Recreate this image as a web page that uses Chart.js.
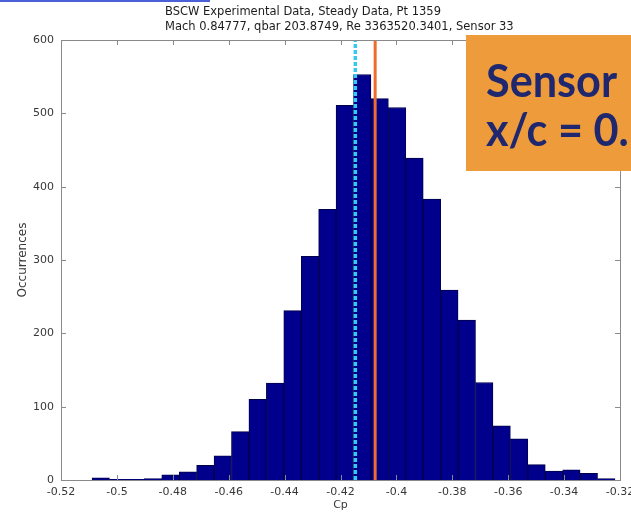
<!DOCTYPE html>
<html>
<head>
<meta charset="utf-8">
<script src="https://cdn.jsdelivr.net/npm/chart.js@4.4.1/dist/chart.umd.min.js"></script>
<style>
  html, body { margin: 0; padding: 0; background: #ffffff; }
  #wrap { position: relative; width: 631px; height: 515px; }
  canvas { display: block; }
</style>
</head>
<body>
<div id="wrap"><canvas id="hist" width="631" height="515"></canvas></div>
<script>
// Histogram of pressure coefficient samples (30 bins)
const binCenters = [
  -0.50578, -0.49954, -0.49331, -0.48707, -0.48083, -0.47460,
  -0.46836, -0.46212, -0.45589, -0.44965, -0.44341, -0.43718,
  -0.43094, -0.42470, -0.41847, -0.41223, -0.40599, -0.39976,
  -0.39352, -0.38728, -0.38105, -0.37481, -0.36857, -0.36234,
  -0.35610, -0.34986, -0.34363, -0.33739, -0.33115, -0.32492
];
const counts = [
  3, 1, 1, 2, 7, 11,
  20, 33, 66, 110, 132, 231,
  305, 369, 511, 553, 520, 508,
  439, 383, 259, 218, 133, 74,
  56, 21, 12, 14, 9, 2
];

// Reference lines (Cp)
const dashedLineCp = -0.4147;
const solidLineCp = -0.4076;

// Axis ticks
const xTickValues = [-0.52, -0.50, -0.48, -0.46, -0.44, -0.42, -0.40, -0.38, -0.36, -0.34, -0.32];
const xTickLabels = ['-0.52', '-0.5', '-0.48', '-0.46', '-0.44', '-0.42', '-0.4', '-0.38', '-0.36', '-0.34', '-0.32'];
const yTickValues = [0, 100, 200, 300, 400, 500, 600];
const yTickLabels = ['0', '100', '200', '300', '400', '500', '600'];

const titleLines = [
  'BSCW Experimental Data, Steady Data, Pt 1359',
  'Mach 0.84777, qbar 203.8749, Re 3363520.3401, Sensor 33'
];
const calloutLines = ['Sensor', 'x/c = 0.'];

const FONT = '"DejaVu Sans", sans-serif';
const AXIS_GREY = '#8a8a8a';
const LABEL_GREY = '#383838';

// Title text and the thin blue rule above it
const titlePlugin = {
  id: 'titleText',
  afterDraw(chart) {
    const ctx = chart.ctx;
    ctx.save();
    ctx.strokeStyle = '#4b5fd6';
    ctx.lineWidth = 2;
    ctx.beginPath();
    ctx.moveTo(0, 1);
    ctx.lineTo(210, 1);
    ctx.stroke();
    ctx.fillStyle = '#1c1c1c';
    ctx.font = '11.5px ' + FONT;
    ctx.textAlign = 'left';
    ctx.textBaseline = 'alphabetic';
    ctx.fillText(titleLines[0], 165, 15);
    ctx.fillText(titleLines[1], 165, 30);
    ctx.restore();
  }
};

// Boxed axes with inward ticks on all four sides
const framePlugin = {
  id: 'frameTicks',
  afterDatasetsDraw(chart) {
    const { ctx, chartArea: a, scales } = chart;
    const len = 5;
    ctx.save();
    ctx.strokeStyle = AXIS_GREY;
    ctx.lineWidth = 1;
    ctx.beginPath();
    xTickValues.forEach(v => {
      const px = Math.round(scales.x.getPixelForValue(v)) + 0.5;
      ctx.moveTo(px, a.bottom); ctx.lineTo(px, a.bottom - len);
      ctx.moveTo(px, a.top); ctx.lineTo(px, a.top + len);
    });
    yTickValues.forEach(v => {
      const py = Math.round(scales.y.getPixelForValue(v)) + 0.5;
      ctx.moveTo(a.left, py); ctx.lineTo(a.left + len, py);
      ctx.moveTo(a.right, py); ctx.lineTo(a.right - len, py);
    });
    ctx.stroke();
    ctx.strokeRect(Math.round(a.left) + 0.5, Math.round(a.top) + 0.5,
                   Math.round(a.right - a.left), Math.round(a.bottom - a.top));
    ctx.restore();
  }
};

// Orange callout box in the upper right corner
const calloutPlugin = {
  id: 'callout',
  afterDraw(chart) {
    const ctx = chart.ctx;
    ctx.save();
    ctx.fillStyle = '#ee9b3c';
    ctx.fillRect(466, 35, 165, 136);
    ctx.fillStyle = '#1f276e';
    const size = 46;
    ctx.font = 'bold ' + size + 'px Lato, "Open Sans", sans-serif';
    ctx.textBaseline = 'alphabetic';
    ctx.textAlign = 'left';
    const sx = 131 / ctx.measureText(calloutLines[0]).width;
    ctx.translate(486, 0);
    ctx.scale(sx, 1);
    ctx.fillText(calloutLines[0], 0, 97);
    ctx.fillText(calloutLines[1], 0, 146);
    ctx.restore();
  }
};

new Chart(document.getElementById('hist'), {
  type: 'bar',
  data: {
    datasets: [
      {
        type: 'line',
        data: [{ x: dashedLineCp, y: 0 }, { x: dashedLineCp, y: 600 }],
        borderColor: '#35c9f3',
        borderWidth: 3.5,
        borderDash: [4, 2],
        pointRadius: 0,
        order: 1
      },
      {
        type: 'line',
        data: [{ x: solidLineCp, y: 0 }, { x: solidLineCp, y: 600 }],
        borderColor: '#ef6c2c',
        borderWidth: 3,
        pointRadius: 0,
        order: 1
      },
      {
        type: 'bar',
        data: binCenters.map((c, i) => ({ x: c, y: counts[i] })),
        backgroundColor: '#00008c',
        borderColor: '#00004a',
        borderWidth: 1,
        barPercentage: 1,
        categoryPercentage: 1,
        order: 2
      }
    ]
  },
  options: {
    responsive: false,
    animation: false,
    events: [],
    layout: { padding: { left: 0, top: 40, right: 11, bottom: 0 } },
    plugins: { legend: { display: false }, tooltip: { enabled: false }, title: { display: false } },
    scales: {
      x: {
        type: 'linear',
        offset: false,
        min: -0.52,
        max: -0.32,
        afterFit(s) { s.height = 35; s.paddingLeft = 0; s.paddingRight = 0; },
        afterBuildTicks(s) { s.ticks = xTickValues.map(v => ({ value: v })); },
        grid: { display: false, drawTicks: false },
        border: { display: false },
        ticks: {
          autoSkip: false,
          maxRotation: 0,
          padding: 6,
          color: LABEL_GREY,
          font: { family: FONT, size: 11 },
          callback: (v, i) => xTickLabels[i]
        },
        title: {
          display: true,
          text: 'Cp',
          color: LABEL_GREY,
          font: { family: FONT, size: 11 },
          padding: { top: 0, bottom: 3 }
        }
      },
      y: {
        min: 0,
        max: 600,
        afterFit(s) { s.width = 61; s.paddingTop = 0; s.paddingBottom = 0; },
        afterBuildTicks(s) { s.ticks = yTickValues.map(v => ({ value: v })); },
        grid: { display: false, drawTicks: false },
        border: { display: false },
        ticks: {
          autoSkip: false,
          padding: 7,
          color: LABEL_GREY,
          font: { family: FONT, size: 11 },
          callback: (v, i) => yTickLabels[i]
        },
        title: {
          display: true,
          text: 'Occurrences',
          color: LABEL_GREY,
          font: { family: FONT, size: 12 },
          padding: { top: 16, bottom: 0 }
        }
      }
    }
  },
  plugins: [framePlugin, titlePlugin, calloutPlugin]
});
</script>
</body>
</html>
